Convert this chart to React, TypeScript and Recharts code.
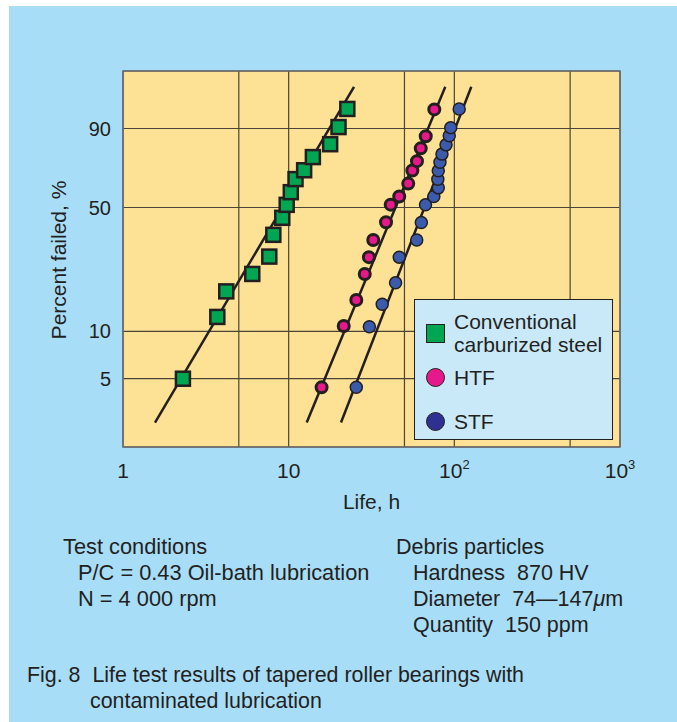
import React from "react";
import {
  ScatterChart,
  Scatter,
  XAxis,
  YAxis,
  CartesianGrid,
  ReferenceArea,
  Legend,
} from "recharts";

// life, h  /  percent failed, %
const conventionalLife = [2.3, 3.71, 4.2, 6.03, 7.64, 8.08, 9.15, 9.73, 10.3, 11.0, 12.4, 14.0, 17.8, 20.0, 22.6];
const conventionalPct = [5.0, 12.3, 17.6, 22.3, 28.0, 36.7, 44.7, 51.4, 58.3, 65.6, 70.5, 77.5, 83.7, 90.5, 95.5];

const htfLife = [15.8, 21.5, 25.6, 28.8, 30.5, 32.4, 38.7, 41.3, 46.5, 52.7, 55.8, 59.5, 62.7, 67.2, 75.7];
const htfPct = [4.4, 10.8, 15.6, 22.3, 27.8, 34.5, 42.5, 51.5, 55.9, 63.1, 70.4, 75.4, 81.8, 87.1, 95.4];

const stfLife = [25.6, 30.7, 36.7, 44.2, 46.5, 59.3, 63.2, 67.0, 75.2, 80.0, 79.5, 80.0, 81.9, 84.2, 89.1, 93.2, 95.1, 107];
const stfPct = [4.4, 10.7, 14.7, 19.8, 27.8, 34.5, 42.4, 51.4, 55.9, 60.7, 65.5, 70.2, 74.8, 79.0, 83.4, 87.3, 90.3, 95.5];

// fitted straight lines, end points
const conventionalFitLife = [1.56, 24.8];
const htfFitLife = [12.85, 88.2];
const stfFitLife = [20.7, 126.6];
const fitPct = [2.6, 98.7];

const xTicks = [1, 5, 10, 50, 100, 500, 1000];
const yTickPct = [5, 10, 50, 90];
const yDomainPct = [1.8, 99.6];

const INK = "#231f20";
const GREEN = "#00a651";
const PINK = "#e6198a";
const BLUE = "#3b5cad";
const LEGEND_BLUE = "#2e3192";
const FONT = '"Liberation Sans", Arial, Helvetica, sans-serif';

// Weibull probability paper: ln(-ln(1 - F))
const weibull = (pct: number) => Math.log(-Math.log(1 - pct / 100));
const fromWeibull = (w: number) => 100 * (1 - Math.exp(-Math.exp(w)));

const toPoints = (life: number[], pct: number[]) =>
  life.map((l, i) => ({ life: l, w: weibull(pct[i]) }));

const SquareDot = ({ cx, cy }: any) => (
  <rect x={cx - 7} y={cy - 7} width={14} height={14} fill={GREEN} stroke={INK} strokeWidth={2.5} />
);
const RingDot = ({ cx, cy }: any) => (
  <circle cx={cx} cy={cy} r={5.5} fill={PINK} stroke={INK} strokeWidth={3} />
);
const BlueDot = ({ cx, cy }: any) => (
  <circle cx={cx} cy={cy} r={6} fill={BLUE} stroke={INK} strokeWidth={1.5} />
);
const NoDot = () => <g />;

function LifeTick({ x, y, payload }: any) {
  const v = payload.value;
  const e = Math.round(Math.log10(v));
  if (Math.abs(Math.log10(v) - e) > 1e-6) return <g />;
  return (
    <text x={x} y={y} dy={23} textAnchor="middle" fontSize={21} fill={INK}>
      {e < 2 ? (
        String(v)
      ) : (
        <>
          10
          <tspan dy={-9} fontSize={13}>
            {e}
          </tspan>
        </>
      )}
    </text>
  );
}

const legendIcons: Record<string, React.ReactNode> = {
  "Conventional carburized steel": (
    <div style={{ width: 17, height: 17, flex: "none", background: GREEN, border: `1.5px solid ${INK}` }} />
  ),
  HTF: (
    <div style={{ width: 17, height: 17, flex: "none", borderRadius: "50%", background: PINK, border: `1.5px solid ${INK}` }} />
  ),
  STF: (
    <div style={{ width: 17, height: 17, flex: "none", borderRadius: "50%", background: LEGEND_BLUE, border: `1.5px solid ${INK}` }} />
  ),
};
const legendRowTop: Record<string, number> = {
  "Conventional carburized steel": 10,
  HTF: 65.5,
  STF: 109.5,
};

function LegendBox({ payload }: any) {
  const items = (payload || []).filter((e: any) => e.type !== "none" && legendIcons[e.value]);
  return (
    <div
      style={{
        position: "relative",
        width: 199,
        height: 141,
        boxSizing: "border-box",
        background: "#c9e9f8",
        border: `1.5px solid ${INK}`,
        fontFamily: FONT,
        fontSize: 21,
        lineHeight: "23px",
        color: INK,
      }}
    >
      {items.map((entry: any) => (
        <div
          key={entry.value}
          style={{
            position: "absolute",
            left: 11,
            top: legendRowTop[entry.value],
            width: 184,
            display: "flex",
            alignItems: "center",
          }}
        >
          {legendIcons[entry.value]}
          <div style={{ marginLeft: 9, width: 156 }}>{entry.value}</div>
        </div>
      ))}
    </div>
  );
}

const textLine = { height: 26, lineHeight: "26px", whiteSpace: "pre" as const };

export default function App() {
  const yTicks = yTickPct.map(weibull);
  const yDomain = yDomainPct.map(weibull);
  return (
    <div
      style={{
        position: "absolute",
        left: 9,
        top: 6,
        width: 668,
        height: 716,
        background: "#a8ddf7",
        fontFamily: FONT,
        color: INK,
      }}
    >
      <ScatterChart width={668} height={520} margin={{ top: 65, right: 57, bottom: 49, left: 54 }}>
        <CartesianGrid fill="#fde295" stroke="#4b4337" strokeWidth={1.2} />
        <XAxis
          type="number"
          dataKey="life"
          scale="log"
          domain={[1, 1000]}
          ticks={xTicks}
          allowDataOverflow
          axisLine={false}
          tickLine={false}
          tick={<LifeTick />}
          height={30}
          label={{ value: "Life, h", position: "bottom", offset: 17, fontSize: 21, fill: INK }}
        />
        <YAxis
          type="number"
          dataKey="w"
          domain={yDomain}
          ticks={yTicks}
          allowDataOverflow
          axisLine={false}
          tickLine={false}
          tickMargin={6}
          width={60}
          tick={{ fontSize: 20, fill: INK }}
          tickFormatter={(w: number) => String(Math.round(fromWeibull(w)))}
          label={{
            position: "insideLeft",
            content: () => (
              <text
                x={50}
                y={254}
                transform="rotate(-90 50 254)"
                textAnchor="middle"
                dy="0.35em"
                fontSize={21}
                fill={INK}
              >
                Percent failed, %
              </text>
            ),
          }}
        />
        <ReferenceArea x1={1} x2={1000} y1={yDomain[0]} y2={yDomain[1]} fill="none" stroke="#6d6e71" strokeWidth={1.5} />
        <Scatter
          name="conventional fit"
          data={toPoints(conventionalFitLife, fitPct)}
          line={{ stroke: INK, strokeWidth: 2.5 }}
          shape={NoDot}
          legendType="none"
          isAnimationActive={false}
        />
        <Scatter
          name="HTF fit"
          data={toPoints(htfFitLife, fitPct)}
          line={{ stroke: INK, strokeWidth: 2.5 }}
          shape={NoDot}
          legendType="none"
          isAnimationActive={false}
        />
        <Scatter
          name="STF fit"
          data={toPoints(stfFitLife, fitPct)}
          line={{ stroke: INK, strokeWidth: 2.5 }}
          shape={NoDot}
          legendType="none"
          isAnimationActive={false}
        />
        <Scatter
          name="Conventional carburized steel"
          data={toPoints(conventionalLife, conventionalPct)}
          fill={GREEN}
          shape={SquareDot}
          isAnimationActive={false}
        />
        <Scatter name="HTF" data={toPoints(htfLife, htfPct)} fill={PINK} shape={RingDot} isAnimationActive={false} />
        <Scatter name="STF" data={toPoints(stfLife, stfPct)} fill={LEGEND_BLUE} shape={BlueDot} isAnimationActive={false} />
        <Legend
          layout="vertical"
          align="center"
          verticalAlign="middle"
          content={<LegendBox />}
          wrapperStyle={{ left: 405, top: 293, width: 199, height: 141 }}
        />
      </ScatterChart>

      <div style={{ position: "absolute", left: 54, top: 528, fontSize: 21.8 }}>
        <div style={textLine}>Test conditions</div>
        <div style={{ ...textLine, paddingLeft: 15 }}>P/C = 0.43 Oil-bath lubrication</div>
        <div style={{ ...textLine, paddingLeft: 15 }}>N = 4 000 rpm</div>
      </div>

      <div style={{ position: "absolute", left: 387, top: 528, fontSize: 21.5 }}>
        <div style={textLine}>Debris particles</div>
        <div style={{ ...textLine, paddingLeft: 17 }}>Hardness  870 HV</div>
        <div style={{ ...textLine, paddingLeft: 17 }}>
          Diameter  74—147<i>μ</i>m
        </div>
        <div style={{ ...textLine, paddingLeft: 17 }}>Quantity  150 ppm</div>
      </div>

      <div style={{ position: "absolute", left: 18, top: 656, fontSize: 21.4 }}>
        <div style={textLine}>Fig. 8  Life test results of tapered roller bearings with</div>
        <div style={{ ...textLine, paddingLeft: 63 }}>contaminated lubrication</div>
      </div>
    </div>
  );
}
